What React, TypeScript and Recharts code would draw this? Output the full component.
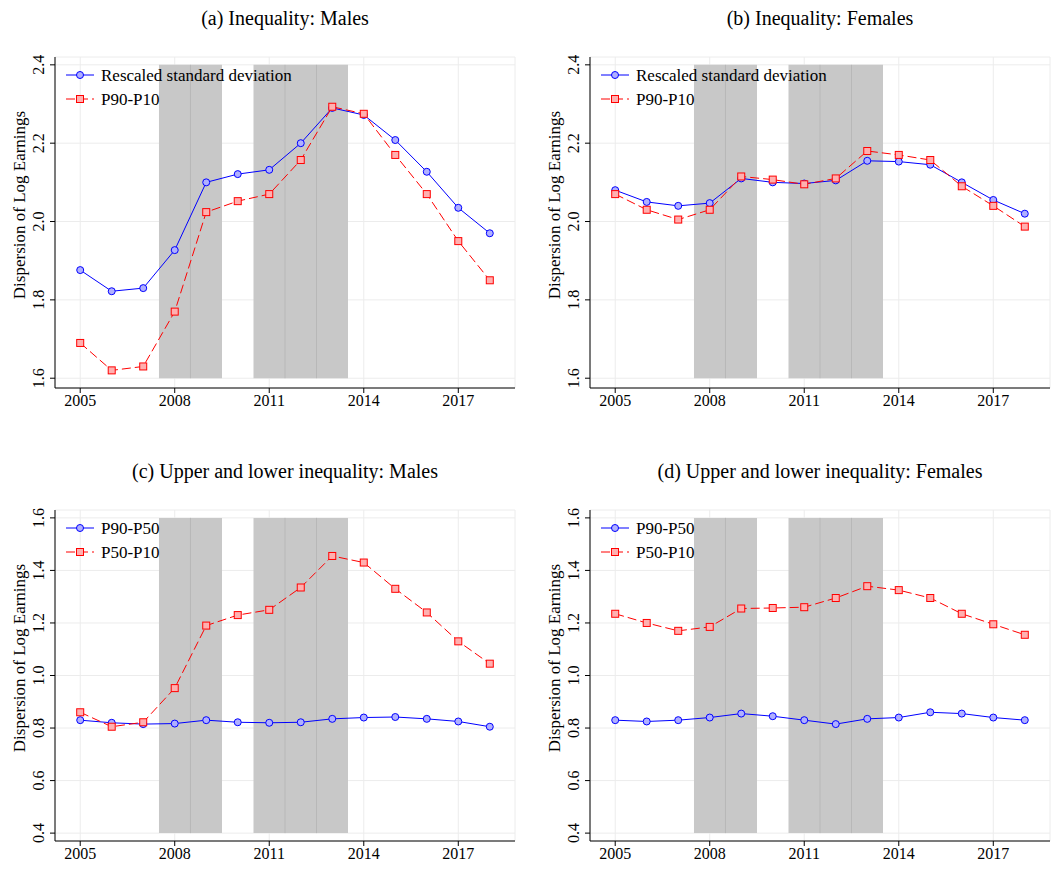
import React from "react";
import {
  LineChart,
  Line,
  XAxis,
  YAxis,
  CartesianGrid,
  ReferenceArea,
  ReferenceLine,
} from "recharts";

const years = [2005, 2006, 2007, 2008, 2009, 2010, 2011, 2012, 2013, 2014, 2015, 2016, 2017, 2018];
const xTicks = [2005, 2008, 2011, 2014, 2017];

const sdMales = [1.876, 1.822, 1.83, 1.927, 2.1, 2.121, 2.132, 2.2, 2.29, 2.272, 2.208, 2.127, 2.035, 1.97];
const p9010Males = [1.69, 1.62, 1.63, 1.77, 2.024, 2.052, 2.07, 2.157, 2.293, 2.275, 2.17, 2.07, 1.95, 1.85];
const sdFemales = [2.08, 2.05, 2.04, 2.047, 2.11, 2.1, 2.097, 2.105, 2.155, 2.153, 2.145, 2.1, 2.055, 2.02];
const p9010Females = [2.07, 2.03, 2.005, 2.03, 2.115, 2.107, 2.095, 2.11, 2.18, 2.17, 2.157, 2.09, 2.04, 1.987];
const p9050Males = [0.83, 0.82, 0.815, 0.817, 0.83, 0.822, 0.82, 0.822, 0.835, 0.84, 0.842, 0.835, 0.825, 0.805];
const p5010Males = [0.86, 0.805, 0.822, 0.952, 1.19, 1.23, 1.25, 1.335, 1.455, 1.43, 1.33, 1.24, 1.13, 1.045];
const p9050Females = [0.83, 0.825, 0.83, 0.84, 0.855, 0.845, 0.83, 0.815, 0.835, 0.84, 0.86, 0.855, 0.84, 0.83];
const p5010Females = [1.235, 1.2, 1.17, 1.185, 1.255, 1.257, 1.26, 1.295, 1.34, 1.325, 1.295, 1.235, 1.195, 1.155];

const topTicks = [1.6, 1.8, 2.0, 2.2, 2.4];
const bottomTicks = [0.4, 0.6, 0.8, 1.0, 1.2, 1.4, 1.6];

const recessions = [
  [2007.5, 2009.5],
  [2010.5, 2013.5],
];
const innerLines = [2008.5, 2011.5, 2012.5];

const FONT = "Liberation Serif, Times New Roman, serif";

const Square = (props: any) => {
  const { cx, cy } = props;
  if (cx == null || cy == null) return null;
  return <rect x={cx - 3.5} y={cy - 3.5} width={7} height={7} fill="#ffb0b0" stroke="#ff0000" strokeWidth={1} />;
};

const Circle = (props: any) => {
  const { cx, cy } = props;
  if (cx == null || cy == null) return null;
  return <circle cx={cx} cy={cy} r={3.5} fill="#b0b0ff" stroke="#0000ff" strokeWidth={1} />;
};

interface PanelProps {
  title: string;
  left: number;
  top: number;
  a: number[];
  b: number[];
  aName: string;
  bName: string;
  domain: [number, number];
  ticks: number[];
}

function Panel({ title, left, top, a, b, aName, bName, domain, ticks }: PanelProps) {
  const data = years.map((y, i) => ({ year: y, a: a[i], b: b[i] }));
  const lo = ticks[0];
  const hi = ticks[ticks.length - 1];
  const fmt = (v: number) => v.toFixed(1);
  return (
    <div style={{ position: "absolute", left, top, width: 525, height: 390, fontFamily: FONT }}>
      <div style={{ position: "absolute", left: 55, width: 460, top: -33, textAlign: "center", fontSize: 20, fontFamily: FONT }}>
        {title}
      </div>
      <div
        style={{
          position: "absolute",
          left: 20,
          top: 165,
          transform: "translate(-50%, -50%) rotate(-90deg)",
          fontSize: 17,
          whiteSpace: "nowrap",
          fontFamily: FONT,
        }}
      >
        Dispersion of Log Earnings
      </div>
      <LineChart width={525} height={390} data={data} margin={{ top: 17, right: 10, bottom: 12, left: 0 }} style={{ fontFamily: FONT }}>
        <CartesianGrid stroke="#ececec" />
        {recessions.map(([x1, x2]) => (
          <ReferenceArea key={x1} x1={x1} x2={x2} y1={lo} y2={hi} fill="#c8c8c8" fillOpacity={1} stroke="none" ifOverflow="visible" />
        ))}
        {innerLines.map((x) => (
          <ReferenceLine key={x} segment={[{ x, y: lo }, { x, y: hi }]} stroke="#b8b8b8" />
        ))}
        <XAxis
          dataKey="year"
          type="number"
          domain={[2004.2, 2018.8]}
          ticks={xTicks}
          height={30}
          tick={{ fill: "#000", fontSize: 16, fontFamily: FONT }}
          stroke="#000"
          tickSize={5}
        />
        <XAxis xAxisId="top" orientation="top" dataKey="year" type="number" domain={[2004.2, 2018.8]} height={0} tick={false} tickLine={false} stroke="#000" />
        <YAxis
          type="number"
          domain={domain}
          ticks={ticks}
          width={55}
          tickFormatter={fmt}
          stroke="#000"
          tickSize={5}
          allowDataOverflow
          tick={(p: any) => (
            <text x={p.x - 4} y={p.y} transform={`rotate(-90 ${p.x - 4} ${p.y})`} textAnchor="middle" fontSize={16} fontFamily={FONT} fill="#000">
              {fmt(p.payload.value)}
            </text>
          )}
        />
        <YAxis yAxisId="right" orientation="right" width={0} tick={false} tickLine={false} stroke="#000" />
        <Line dataKey="a" stroke="#0000ff" strokeWidth={1} dot={<Circle />} isAnimationActive={false} />
        <Line dataKey="b" stroke="#ff0000" strokeWidth={1} strokeDasharray="9 4" dot={<Square />} isAnimationActive={false} />
      </LineChart>
      <svg style={{ position: "absolute", left: 66, top: 24 }} width={300} height={50}>
        <line x1={0} y1={11} x2={28} y2={11} stroke="#0000ff" />
        <circle cx={14} cy={11} r={3.5} fill="#b0b0ff" stroke="#0000ff" />
        <text x={35} y={17} fontSize={17} fontFamily={FONT}>{aName}</text>
        <line x1={0} y1={35} x2={28} y2={35} stroke="#ff0000" strokeDasharray="9 4" />
        <rect x={10.5} y={31.5} width={7} height={7} fill="#ffb0b0" stroke="#ff0000" />
        <text x={35} y={41} fontSize={17} fontFamily={FONT}>{bName}</text>
      </svg>
    </div>
  );
}

export default function App() {
  return (
    <div style={{ position: "absolute", left: 0, top: 0, width: 1051, height: 873, background: "#fff" }}>
      <Panel title="(a) Inequality: Males" left={0} top={40} a={sdMales} b={p9010Males} aName="Rescaled standard deviation" bName="P90-P10" domain={[1.575, 2.42]} ticks={topTicks} />
      <Panel title="(b) Inequality: Females" left={535} top={40} a={sdFemales} b={p9010Females} aName="Rescaled standard deviation" bName="P90-P10" domain={[1.575, 2.42]} ticks={topTicks} />
      <Panel title="(c) Upper and lower inequality: Males" left={0} top={493} a={p9050Males} b={p5010Males} aName="P90-P50" bName="P50-P10" domain={[0.37, 1.63]} ticks={bottomTicks} />
      <Panel title="(d) Upper and lower inequality: Females" left={535} top={493} a={p9050Females} b={p5010Females} aName="P90-P50" bName="P50-P10" domain={[0.37, 1.63]} ticks={bottomTicks} />
    </div>
  );
}
